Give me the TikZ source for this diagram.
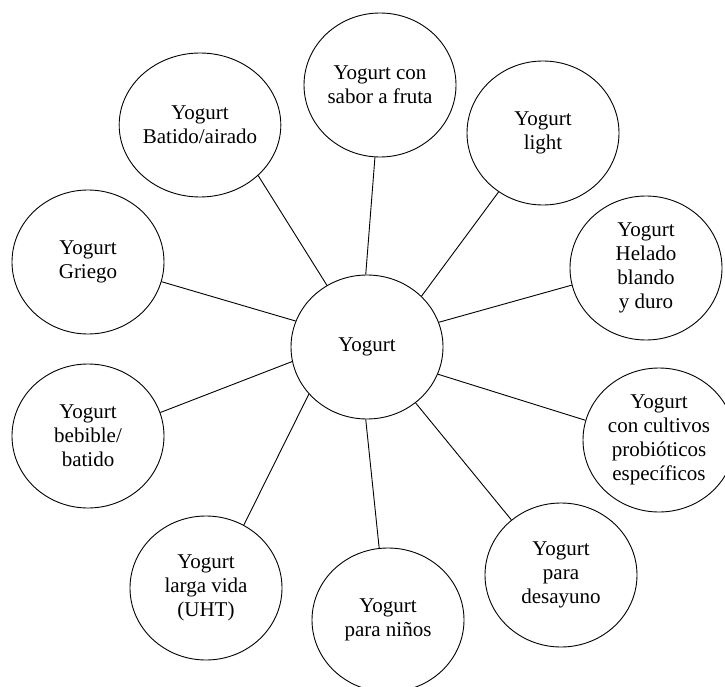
\documentclass[tikz,border=0pt]{standalone}
\usepackage{fontspec}
\setmainfont{Liberation Serif}
\usetikzlibrary{shapes.geometric}
\begin{document}
\begin{tikzpicture}[x=1pt,y=-1pt,
  bub/.style={ellipse,draw,line width=0.9pt,minimum width=152pt,minimum height=144pt,inner sep=0pt,align=center,font=\fontsize{21}{24}\selectfont},
  link/.style={line width=0.9pt}]
\useasboundingbox (0,0) rectangle (725,687);
\begin{scope}
\clip (0,0) rectangle (725,687);
\node[bub] (c) at (367,347) {Yogurt};
\node[bub] (batido) at (200,125) {Yogurt\\Batido/airado};
\node[bub] (griego) at (88,262) {Yogurt\\Griego};
\node[bub] (sabor) at (380,85) {Yogurt con\\sabor a fruta};
\node[bub] (light) at (543,133) {Yogurt\\light};
\node[bub] (helado) at (646,268) {Yogurt\\Helado\\blando\\y duro};
\node[bub] (bebible) at (88,436) {Yogurt\\bebible/\\batido};
\node[bub] (uht) at (206,588) {Yogurt\\larga vida\\(UHT)};
\node[bub] (ninos) at (388,620) {Yogurt\\para niños};
\node[bub] (desayuno) at (561,575) {Yogurt\\para\\desayuno};
\node[bub] (prob) at (659,440) {Yogurt\\con cultivos\\probióticos\\específicos};
\draw[link] (c.123) -- (batido.-41);
\draw[link] (c.160) -- (griego.-15);
\draw[link] (c.91) -- (sabor.-94);
\draw[link] (c.43) -- (light.-127.5);
\draw[link] (c.19) -- (helado.193.5);
\draw[link] (c.191) -- (bebible.18);
\draw[link] (c.219.6) -- (uht.59.6);
\draw[link] (c.269) -- (ninos.97);
\draw[link] (c.-49) -- (desayuno.132);
\draw[link] (c.-21) -- (prob.165);
\end{scope}
\end{tikzpicture}
\end{document}
